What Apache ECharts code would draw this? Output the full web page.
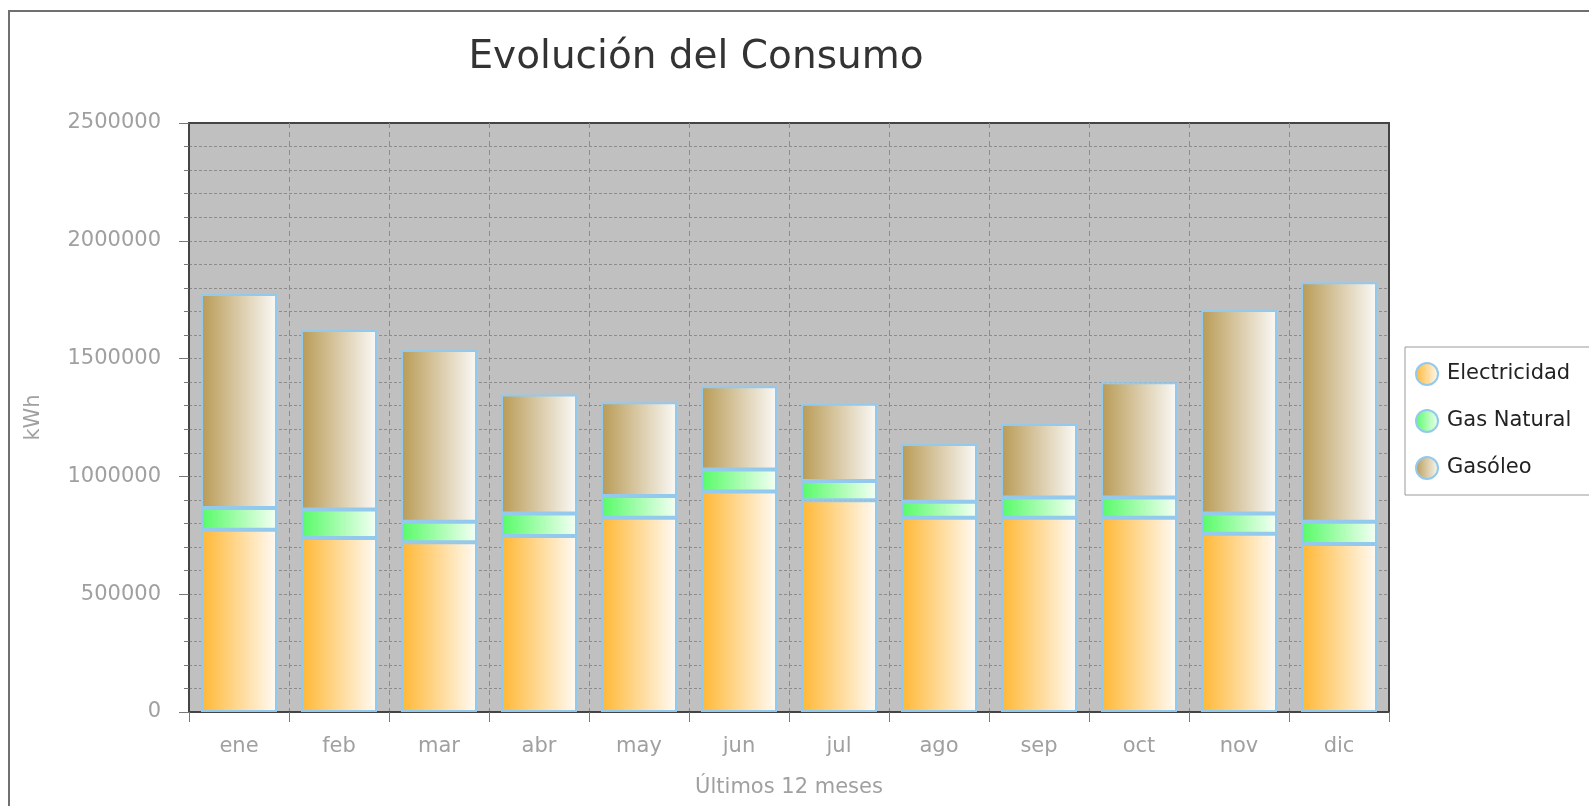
<!DOCTYPE html>
<html>
<head>
<meta charset="utf-8">
<title>Evolución del Consumo</title>
<script src="https://cdn.jsdelivr.net/npm/echarts@6/dist/echarts.min.js"></script>
<style>
  html, body { margin: 0; padding: 0; background: #fff; }
  #chart { width: 1589px; height: 806px; }
</style>
</head>
<body>
<div id="chart"></div>
<script>
// datos (kWh)
const meses = ['ene', 'feb', 'mar', 'abr', 'may', 'jun', 'jul', 'ago', 'sep', 'oct', 'nov', 'dic'];
const electricidad = [774000, 739000, 720000, 747000, 825000, 936000, 899000, 824000, 824000, 824000, 757000, 713000];
const gasNatural = [92000, 120000, 88000, 95000, 92000, 93000, 81000, 68000, 86000, 86000, 85000, 95000];
const gasoleo = [908000, 762000, 728000, 506000, 398000, 354000, 328000, 245000, 312000, 490000, 864000, 1016000];

const FONT = 'DejaVu Sans';

function grad(c0, c1) {
  return new echarts.graphic.LinearGradient(0, 0, 1, 0, [
    { offset: 0, color: c0 },
    { offset: 1, color: c1 }
  ]);
}

const chart = echarts.init(document.getElementById('chart'));

const barStyle = {
  borderColor: '#94c9ee',
  borderWidth: 2
};

const option = {
  animation: false,
  backgroundColor: '#fff',
  title: {
    text: 'Evolución del Consumo',
    left: 691,
    top: 33,
    textAlign: 'center',
    textStyle: {
      fontFamily: FONT,
      fontSize: 39,
      fontWeight: 'normal',
      color: '#333'
    }
  },
  graphic: [{
    type: 'rect',
    silent: true,
    z: -10,
    shape: { x: 9, y: 11, width: 1700, height: 900 },
    style: { fill: 'none', stroke: '#707070', lineWidth: 2 }
  }],
  legend: {
    orient: 'vertical',
    left: 1405,
    top: 347,
    padding: [15, 20, 15, 10],
    itemGap: 23,
    itemWidth: 22,
    itemHeight: 22,
    icon: 'circle',
    backgroundColor: '#fff',
    borderColor: '#9a9a9a',
    borderWidth: 1,
    borderRadius: 0,
    textStyle: {
      fontFamily: FONT,
      fontSize: 21,
      color: '#222',
      padding: [0, 0, 0, 4]
    },
    data: ['Electricidad', 'Gas Natural', 'Gasóleo']
  },
  grid: {
    left: 189,
    right: 200,
    top: 123,
    bottom: 94,
    show: true,
    backgroundColor: '#c0c0c0',
    borderColor: '#444',
    borderWidth: 2
  },
  xAxis: {
    type: 'category',
    data: meses,
    name: 'Últimos 12 meses',
    nameLocation: 'middle',
    nameGap: 65,
    nameTextStyle: { fontFamily: FONT, fontSize: 21, color: '#a0a0a0' },
    axisLine: { lineStyle: { color: '#444', width: 2 } },
    axisTick: { show: true, length: 10, lineStyle: { color: '#777' } },
    axisLabel: { fontFamily: FONT, fontSize: 21, color: '#a0a0a0', margin: 24 },
    splitLine: {
      show: true,
      showMinLine: false,
      showMaxLine: false,
      lineStyle: { color: '#8c8c8c', type: [5, 4], width: 1 }
    }
  },
  yAxis: {
    type: 'value',
    min: 0,
    max: 2500000,
    interval: 500000,
    name: 'kWh',
    nameLocation: 'middle',
    nameGap: 145,
    nameTextStyle: { fontFamily: FONT, fontSize: 21, color: '#a0a0a0' },
    axisLine: { show: true, lineStyle: { color: '#444', width: 2 } },
    axisTick: { show: true, length: 10, lineStyle: { color: '#777' } },
    minorTick: { show: true, splitNumber: 5, length: 5, lineStyle: { color: '#777' } },
    axisLabel: {
      fontFamily: FONT,
      fontSize: 21,
      color: '#a0a0a0',
      margin: 28,
      formatter: function (v) { return String(v); }
    },
    splitLine: {
      show: true,
      showMinLine: false,
      showMaxLine: false,
      lineStyle: { color: '#8c8c8c', type: [3, 2], width: 1 }
    },
    minorSplitLine: { show: true, lineStyle: { color: '#8c8c8c', type: [3, 2], width: 1 } }
  },
  series: [
    {
      name: 'Electricidad',
      type: 'bar',
      stack: 'total',
      barWidth: '76%',
      itemStyle: Object.assign({ color: grad('#ffb733', '#fffbf6') }, barStyle),
      data: electricidad
    },
    {
      name: 'Gas Natural',
      type: 'bar',
      stack: 'total',
      itemStyle: Object.assign({ color: grad('#55fb66', '#f6fff6') }, barStyle),
      data: gasNatural
    },
    {
      name: 'Gasóleo',
      type: 'bar',
      stack: 'total',
      itemStyle: Object.assign({ color: grad('#b89a55', '#fbfaf8') }, barStyle),
      data: gasoleo
    }
  ]
};

chart.setOption(option);
</script>
</body>
</html>
